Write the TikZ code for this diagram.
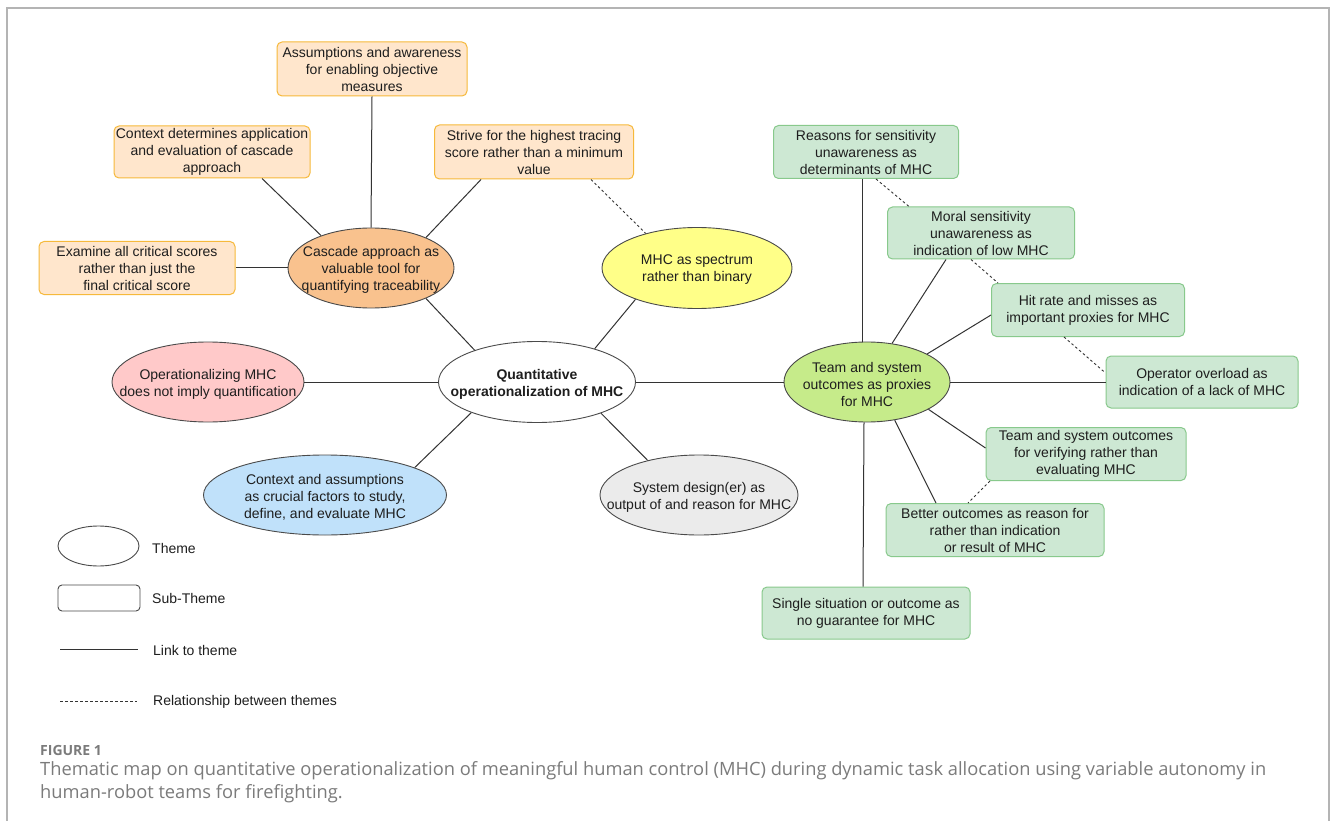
\documentclass[tikz,border=0pt]{standalone}
\usepackage{graphicx}
\usepackage{fontspec}
\setmainfont{Liberation Sans}
\newfontfamily\capfont{Open Sans}
\usetikzlibrary{shapes.geometric}
\definecolor{framegray}{HTML}{B4B4B4}
\definecolor{linkgray}{HTML}{333333}
\definecolor{edgegray}{HTML}{4A4A4A}
\definecolor{textdark}{HTML}{1E1E1E}
\definecolor{orangefill}{HTML}{FFE6CC}
\definecolor{orangeline}{HTML}{F6B93B}
\definecolor{greenfill}{HTML}{CDE8D3}
\definecolor{greenline}{HTML}{88C98C}
\definecolor{cascadefill}{HTML}{F9C28E}
\definecolor{yellowfill}{HTML}{FFFF88}
\definecolor{pinkfill}{HTML}{FFC9C9}
\definecolor{bluefill}{HTML}{C0E1FA}
\definecolor{grayfill}{HTML}{EBEBEB}
\definecolor{teamfill}{HTML}{C6EB8A}
\definecolor{capgray}{HTML}{7B7B7B}
\newcommand\dfont{\fontsize{14}{17}\selectfont}
\newcommand\cfont{\capfont\fontsize{18}{24}\selectfont}
\newsavebox\capboxA
\newdimen\capw
\begin{document}
\sbox\capboxA{\color{capgray}\cfont Thematic map on quantitative operationalization of meaningful human control (MHC) during dynamic task allocation using variable autonomy in}%
\capw=\wd\capboxA
\pgfmathsetmacro\capscale{1226/\capw}%
\begin{tikzpicture}[x=1pt,y=-1pt,
 theme/.style={ellipse, draw=edgegray, line width=0.9pt, inner sep=0pt},
 txt/.style={align=center, font=\dfont, text=textdark, inner sep=0pt, yshift=-2pt},
 subbox/.style={rectangle, rounded corners=5pt, line width=1pt, inner sep=0pt, align=center, font=\dfont, text=textdark},
 orangebox/.style={subbox, draw=orangeline, fill=orangefill},
 greenbox/.style={subbox, draw=greenline, fill=greenfill},
 link/.style={draw=linkgray, line width=1pt},
 rel/.style={draw=linkgray, line width=0.9pt, dash pattern=on 2.5pt off 2.5pt},
 legtxt/.style={font=\dfont, text=textdark, anchor=west, inner sep=0pt},
 captxt/.style={anchor=base west, inner sep=0pt, text=capgray},
]
\useasboundingbox (0,0) rectangle (1331,821);
\fill[white] (0,0) rectangle (1331,821);
\draw[framegray, line width=1.2pt] (7,821) -- (7,8) -- (1329,8) -- (1329,821);

% themes (ellipses)
\node[theme, fill=white, minimum width=197pt, minimum height=81pt] (main) at (537,382) {};
\node[txt, font=\dfont\bfseries] (mainT) at (main) {Quantitative\\operationalization of MHC};
\node[theme, fill=cascadefill, minimum width=166pt, minimum height=80pt] (cascade) at (371,268) {};
\node[txt] (cascadeT) at (cascade) {Cascade approach as\\valuable tool for\\quantifying traceability};
\node[theme, fill=yellowfill, minimum width=190pt, minimum height=81pt] (spectrum) at (697,268) {};
\node[txt] (spectrumT) at (spectrum) {MHC as spectrum\\rather than binary};
\node[theme, fill=grayfill, minimum width=198pt, minimum height=80pt] (system) at (699,495) {};
\node[txt] (systemT) at (system) {System design(er) as\\output of and reason for MHC};
\node[theme, fill=bluefill, minimum width=243pt, minimum height=80pt] (context) at (325,495) {};
\node[txt] (contextT) at (context) {Context and assumptions\\as crucial factors to study,\\define, and evaluate MHC};
\node[theme, fill=pinkfill, minimum width=192pt, minimum height=80pt] (opmhc) at (208,382) {};
\node[txt] (opmhcT) at (opmhc) {Operationalizing MHC\\does not imply quantification};
\node[theme, fill=teamfill, minimum width=166pt, minimum height=80pt] (team) at (867,382) {};
\node[txt] (teamT) at (team) {Team and system\\outcomes as proxies\\for MHC};

% orange sub-themes
\node[orangebox, minimum width=190pt, minimum height=54pt] (assum) at (372,69) {Assumptions and awareness\\for enabling objective\\measures};
\node[orangebox, minimum width=196pt, minimum height=52pt] (ctxdet) at (212,152) {Context determines application\\and evaluation of cascade\\approach};
\node[orangebox, minimum width=196pt, minimum height=53pt] (examine) at (137,268) {Examine all critical scores\\rather than just the\\final critical score};
\node[orangebox, minimum width=199pt, minimum height=54pt] (strive) at (534,152) {Strive for the highest tracing\\score rather than a minimum\\value};

% green sub-themes
\node[greenbox, minimum width=185pt, minimum height=53pt] (reasons) at (866,152) {Reasons for sensitivity\\unawareness as\\determinants of MHC};
\node[greenbox, minimum width=187pt, minimum height=52pt] (moral) at (981,233) {Moral sensitivity\\unawareness as\\indication of low MHC};
\node[greenbox, minimum width=193pt, minimum height=53pt] (hit) at (1088,310) {Hit rate and misses as\\important proxies for MHC};
\node[greenbox, minimum width=192pt, minimum height=52pt] (oper) at (1202,382) {Operator overload as\\indication of a lack of MHC};
\node[greenbox, minimum width=200pt, minimum height=53pt] (verif) at (1086,454) {Team and system outcomes\\for verifying rather than\\evaluating MHC};
\node[greenbox, minimum width=218pt, minimum height=53pt] (better) at (995,530) {Better outcomes as reason for\\rather than indication\\or result of MHC};
\node[greenbox, minimum width=208pt, minimum height=52pt] (single) at (866,613) {Single situation or outcome as\\no guarantee for MHC};

% links to theme
\draw[link] (main.153) -- (cascade.-29);
\draw[link] (main.30) -- (spectrum.-153);
\draw[link] (main.east) -- (team.west);
\draw[link] (main.-26) -- (system.146);
\draw[link] (main.-155) -- (context.17);
\draw[link] (opmhc.east) -- (main.west);
\draw[link] (examine.east) -- (cascade.west);
\draw[link] ([xshift=50pt]ctxdet.south) -- (cascade.147);
\draw[link] (assum.south) -- (cascade.north);
\draw[link] ([xshift=-53pt]strive.south) -- (cascade.29);
\draw[link] ([xshift=-4pt]reasons.south) -- ([xshift=-5pt]team.north);
\draw[link] ([xshift=-35pt]moral.south) -- (team.57);
\draw[link] ([yshift=-5pt]hit.west) -- (team.25);
\draw[link] (team.east) -- (oper.west);
\draw[link] (team.-24) -- ([yshift=6pt]verif.west);
\draw[link] (team.-54) -- ([xshift=-59pt]better.north);
\draw[link] ([xshift=-3pt]team.south) -- ([xshift=-3pt]single.north);

% relationships between themes
\draw[rel] ([xshift=57pt]strive.south) -- (spectrum.146.6);
\draw[rel] ([xshift=10pt]reasons.south) -- ([xshift=-72pt]moral.north);
\draw[rel] ([xshift=-10pt]moral.south) -- ([xshift=-90pt]hit.north);
\draw[rel] ([xshift=-24pt]hit.south) -- ([yshift=9pt]oper.west);
\draw[rel] ([xshift=-96pt]verif.south) -- ([xshift=-27pt]better.north);

% legend
\node[ellipse, draw=edgegray, line width=0.9pt, fill=white, minimum width=81pt, minimum height=40pt, inner sep=0pt] (legtheme) at (98.5,546) {};
\node[legtxt] (legthemeT) at (152,548) {Theme};
\node[rectangle, rounded corners=4pt, draw=edgegray, line width=0.9pt, minimum width=82pt, minimum height=26pt, inner sep=0pt] (legsub) at (99,598) {};
\node[legtxt] (legsubT) at (152,598) {Sub-Theme};
\coordinate (linkA) at (60,649);
\coordinate (linkB) at (138,649);
\draw[link] (linkA) -- (linkB);
\node[legtxt] (leglinkT) at (153,650) {Link to theme};
\coordinate (relA) at (60,701);
\coordinate (relB) at (137,701);
\draw[rel] (relA) -- (relB);
\node[legtxt] (legrelT) at (153,702) {Relationship between themes};

% caption
\node[captxt, font=\capfont\bfseries\fontsize{14}{16}\selectfont] (figlabel) at (40,755) {FIGURE 1};
\node[captxt] (cap1) at (40,775) {\scalebox{\capscale}{\usebox\capboxA}};
\node[captxt] (cap2) at (40,798) {\scalebox{\capscale}{\cfont human-robot teams for firefighting.}};
\end{tikzpicture}
\end{document}
